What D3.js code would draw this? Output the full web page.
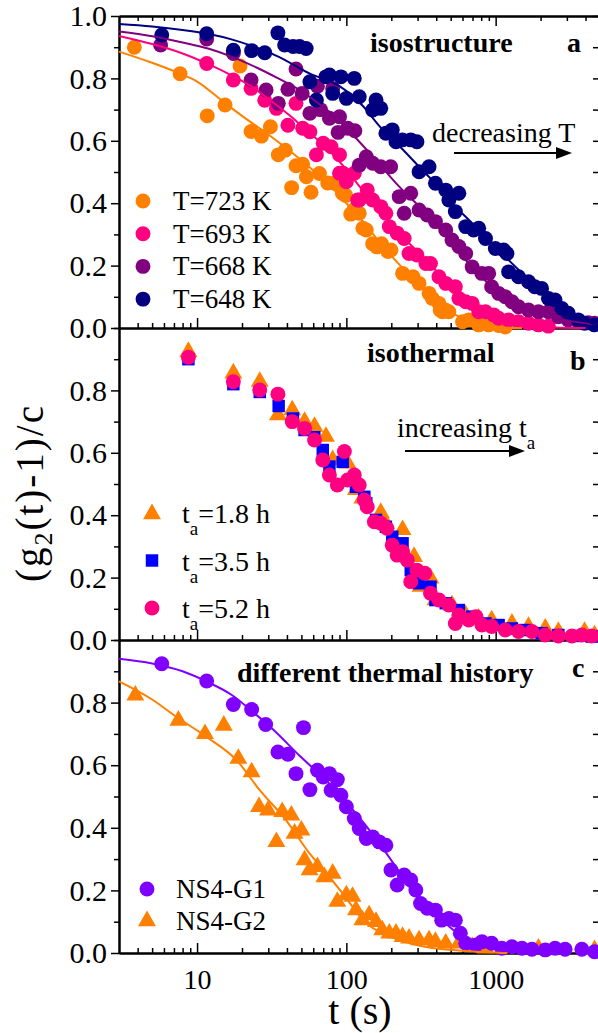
<!DOCTYPE html>
<html lang="en">
<head>
<meta charset="UTF-8">
<title>g2 decay</title>
<script src="https://cdn.jsdelivr.net/npm/d3@7"></script>
<style>
  body { margin: 0; background: #fff; }
  text { font-family: 'Liberation Serif', 'Times New Roman', serif; fill: #000; }
</style>
</head>
<body>
<script>
// ---- panel a : isostructure, [t (s), (g2-1)/c]
const iso723 = [[3.8,0.90],[7.7,0.815],[11.7,0.68],[15.4,0.715],[19.4,0.84],[23,0.63],[27,0.615],[31,0.645],[35,0.555],[39,0.57],[43,0.45],[46,0.52],[51,0.525],[54,0.485],[58,0.435],[66,0.495],[75,0.465],[83,0.464],[94,0.432],[99,0.425],[107,0.365],[112,0.378],[122,0.368],[129,0.32],[136,0.314],[150,0.27],[160,0.26],[172,0.27],[190,0.245],[199,0.25],[238,0.175],[280,0.164],[307,0.143],[358,0.111],[376,0.095],[417,0.079],[425,0.058],[440,0.052],[460,0.058],[486,0.052],[600,0.02],[661,0.026],[770,0.01],[898,0.01],[1047,0.008],[1160,0.003]];
const iso693 = [[11.6,0.848],[17.5,0.795],[23,0.768],[28.4,0.73],[34,0.704],[40.6,0.65],[46,0.72],[51,0.64],[57,0.629],[63,0.555],[70,0.592],[79,0.581],[90,0.555],[90,0.496],[95,0.496],[100,0.469],[113,0.496],[119,0.41],[122,0.41],[138,0.442],[150,0.41],[170,0.389],[184,0.368],[194,0.325],[219,0.304],[244,0.287],[263,0.239],[297,0.234],[341,0.207],[366,0.207],[417,0.164],[463,0.143],[537,0.132],[567,0.095],[630,0.084],[696,0.079],[770,0.052],[855,0.052],[970,0.042],[1047,0.031],[1221,0.026],[1423,0.02],[1660,0.015],[1935,0.01],[2255,0.006]];
const iso668 = [[5.7,0.907],[11.6,0.926],[17.5,0.88],[23,0.795],[29,0.763],[35,0.72],[40.6,0.765],[46,0.83],[50.6,0.752],[57,0.688],[64,0.775],[67,0.70],[77,0.672],[81,0.768],[90,0.677],[88,0.627],[102,0.64],[114,0.632],[122,0.522],[136,0.549],[150,0.528],[170,0.517],[198,0.517],[226,0.421],[244,0.368],[270,0.432],[307,0.378],[348,0.362],[395,0.341],[463,0.314],[510,0.282],[567,0.261],[630,0.239],[696,0.196],[808,0.175],[898,0.175],[940,0.132],[1047,0.111],[1160,0.1],[1286,0.084],[1423,0.068],[1660,0.058],[1935,0.052],[2255,0.052],[2630,0.036],[3066,0.026],[3575,0.02],[4169,0.017],[4600,0.015]];
const iso648 = [[5.8,0.939],[11.6,0.943],[17.5,0.89],[23.2,0.889],[28.4,0.882],[34.8,0.946],[38.6,0.907],[44,0.902],[48.6,0.902],[53.8,0.896],[57,0.789],[63,0.731],[73,0.805],[77,0.811],[81,0.752],[92,0.805],[100,0.736],[113,0.8],[122,0.741],[150,0.699],[158,0.731],[170,0.704],[184,0.624],[203,0.635],[215,0.597],[237,0.603],[270,0.603],[297,0.597],[307,0.501],[358,0.517],[395,0.464],[463,0.442],[486,0.41],[567,0.432],[537,0.373],[630,0.325],[713,0.314],[770,0.32],[855,0.287],[995,0.255],[1131,0.25],[1190,0.239],[1221,0.18],[1423,0.164],[1660,0.148],[1830,0.132],[2030,0.127],[2255,0.095],[2500,0.09],[2770,0.063],[3066,0.047],[3575,0.026],[3940,0.015],[4600,0.01]];
// fitted curves
const fit723 = [[3,0.886],[5,0.85],[7.7,0.815],[10,0.79],[15,0.725],[20,0.68],[30,0.62],[45,0.555],[60,0.505],[80,0.45],[100,0.40],[130,0.34],[170,0.27],[230,0.2],[300,0.145],[400,0.09],[550,0.04],[750,0.01],[1000,0.002],[1500,0]];
const fit693 = [[3,0.936],[5,0.91],[8,0.88],[12,0.845],[17,0.81],[23,0.775],[30,0.735],[42,0.68],[55,0.63],[73,0.58],[95,0.52],[122,0.455],[160,0.385],[226,0.303],[300,0.245],[376,0.197],[500,0.135],[630,0.09],[800,0.055],[1047,0.033],[1400,0.015],[1800,0.007],[2500,0.002],[4000,0]];
const fit668 = [[3,0.95],[5,0.935],[8,0.915],[12,0.895],[17,0.87],[25,0.835],[35,0.80],[46,0.77],[65,0.72],[85,0.675],[110,0.62],[150,0.55],[226,0.453],[300,0.395],[376,0.346],[500,0.275],[630,0.218],[800,0.165],[1047,0.111],[1400,0.075],[1750,0.055],[2300,0.037],[2920,0.026],[4000,0.015],[5000,0.01]];
const fit648 = [[3,0.974],[5,0.966],[8,0.955],[12,0.942],[17,0.925],[23,0.905],[35,0.87],[57,0.815],[90,0.775],[130,0.71],[166,0.648],[230,0.58],[307,0.517],[400,0.46],[510,0.40],[650,0.35],[855,0.293],[1100,0.24],[1350,0.197],[1700,0.152],[2140,0.111],[2600,0.08],[3066,0.052],[3600,0.033],[4600,0.012],[5000,0.008]];

// ---- panel b : isothermal
const ta18 = [[8.75,0.924],[17.5,0.855],[26.3,0.828],[34.8,0.721],[43.4,0.737],[52.5,0.70],[61.2,0.684],[73,0.652],[81,0.577],[102,0.566],[116,0.481],[128,0.454],[170,0.408],[184,0.374],[238,0.353],[284,0.267],[314,0.171],[366,0.198],[395,0.128],[510,0.112],[630,0.08],[770,0.069],[940,0.064],[1286,0.053],[1660,0.043],[2150,0.037],[2630,0.027],[3940,0.027],[4600,0.016]];
const ta35 = [[8.75,0.90],[17.5,0.82],[26.3,0.795],[35.2,0.75],[43.9,0.71],[52.5,0.673],[61,0.65],[69.5,0.609],[77,0.556],[94.5,0.571],[116,0.491],[132,0.459],[136,0.438],[158,0.385],[184,0.363],[203,0.331],[238,0.31],[270,0.224],[307,0.182],[366,0.171],[395,0.128],[463,0.118],[567,0.096],[696,0.075],[855,0.053],[1047,0.048],[1286,0.037],[1580,0.032],[2030,0.022],[2630,0.016],[3440,0.013],[4400,0.011]];
const ta52 = [[8.75,0.906],[17.5,0.828],[26.3,0.801],[34.8,0.788],[43.4,0.70],[52.5,0.678],[61.2,0.641],[69.5,0.577],[77,0.529],[87,0.497],[97,0.604],[102,0.513],[113,0.529],[122,0.497],[132,0.449],[138,0.427],[154,0.379],[170,0.374],[187,0.358],[203,0.304],[219,0.272],[238,0.283],[256,0.256],[270,0.187],[297,0.224],[335,0.214],[366,0.15],[417,0.128],[486,0.112],[537,0.053],[567,0.08],[661,0.064],[737,0.075],[810,0.048],[940,0.043],[1160,0.032],[1423,0.027],[1750,0.027],[2150,0.016],[2630,0.013],[3240,0.013],[3780,0.016],[4400,0.013]];

// ---- panel c : different thermal history
const g1 = [[5.8,0.924],[11.6,0.869],[17.5,0.794],[23.2,0.778],[28.8,0.73],[34.8,0.642],[40.6,0.635],[46,0.573],[51.6,0.72],[57,0.522],[64,0.584],[70,0.562],[77,0.573],[79,0.52],[87,0.554],[92,0.504],[100,0.467],[113,0.43],[122,0.398],[136,0.366],[150,0.371],[166,0.355],[184,0.344],[199,0.265],[219,0.217],[244,0.249],[270,0.233],[292,0.201],[314,0.158],[348,0.143],[395,0.137],[435,0.105],[486,0.11],[537,0.105],[580,0.063],[630,0.031],[737,0.026],[810,0.036],[940,0.031],[1100,0.015],[1286,0.02],[1500,0.015],[1750,0.012],[2150,0.01],[2500,0.015],[2920,0.012],[3780,0.012],[4600,0.004]];
const g2 = [[3.86,0.823],[7.5,0.743],[11.3,0.70],[15.1,0.727],[18.9,0.621],[23.2,0.578],[26,0.467],[29.9,0.456],[34,0.355],[37.2,0.451],[42.8,0.44],[45,0.382],[50,0.392],[52.5,0.297],[56.7,0.265],[64,0.275],[71.3,0.243],[81,0.254],[87,0.164],[100,0.185],[110,0.18],[116,0.137],[128,0.105],[142,0.121],[158,0.1],[174,0.073],[194,0.063],[215,0.063],[238,0.052],[263,0.047],[307,0.041],[358,0.041],[395,0.036],[463,0.031],[567,0.031],[696,0.02],[855,0.015],[1935,0.015],[4600,0.01]];
const fitG1 = [[3,0.94],[5,0.925],[8,0.90],[11.6,0.867],[17,0.825],[23,0.775],[33,0.71],[48.6,0.63],[65,0.575],[81,0.53],[105,0.47],[136,0.405],[166,0.35],[226,0.26],[307,0.17],[376,0.13],[460,0.095],[567,0.06],[700,0.035],[850,0.02],[1100,0.008],[1500,0.002],[2500,0]];
const fitG2 = [[3,0.868],[5,0.81],[7.3,0.754],[11.6,0.69],[18.4,0.616],[26.3,0.52],[39.5,0.424],[56.7,0.318],[75,0.25],[94.5,0.19],[136,0.095],[180,0.06],[226,0.041],[300,0.025],[376,0.016],[500,0.01],[630,0.006],[900,0.002],[1200,0]];

const xMajor = [10, 100, 1000];
const xMinor = [4,5,6,7,8,9,20,30,40,50,60,70,80,90,200,300,400,500,600,700,800,900,2000,3000,4000,5000];
const yAllTicks = d3.range(0, 1.001, 0.1);
const labelsA = [0, 0.2, 0.4, 0.6, 0.8, 1.0];
const labelsBC = [0, 0.2, 0.4, 0.6, 0.8];

const W = 598, H = 1033;
const svg = d3.select('body').append('svg').attr('width', W).attr('height', H);
const x = d3.scaleLog().domain([3, 5000]).range([119, 600]);

const yA = d3.scaleLinear().domain([0, 1]).range([328, 16]);
const yB = d3.scaleLinear().domain([0, 1]).range([640, 328]);
const yC = d3.scaleLinear().domain([0, 1]).range([953, 640]);

const FONT = "'Liberation Serif', 'Times New Roman', serif";

function styleAxis(g, size) {
  g.select('.domain').attr('stroke', '#000').attr('stroke-width', 2);
  g.selectAll('.tick line').attr('stroke', '#000').attr('stroke-width', 1.5);
  g.selectAll('text').attr('font-family', FONT).attr('font-size', size).attr('fill', '#000');
}

function frame(y, labels, xLabels, topTicks) {
  const bottom = y.range()[0], top = y.range()[1];
  // left axis, ticks outward
  const minors = yAllTicks.filter(v => !labels.some(l => Math.abs(l - v) < 1e-6));
  svg.append('g').attr('transform', 'translate(119,0)')
    .call(d3.axisLeft(y).tickValues(minors).tickSize(5).tickFormat('').tickSizeOuter(0))
    .call(g => styleAxis(g, 30));
  svg.append('g').attr('transform', 'translate(119,0)')
    .call(d3.axisLeft(y).tickValues(labels).tickSize(8).tickPadding(4).tickFormat(d3.format('.1f')).tickSizeOuter(0))
    .call(g => styleAxis(g, 30));
  // right axis, ticks inward
  svg.append('g').attr('transform', 'translate(600,0)')
    .call(d3.axisRight(y).tickValues(yAllTicks).tickSize(-7).tickFormat('').tickSizeOuter(0))
    .call(g => styleAxis(g, 28));
  // bottom axis, ticks inward
  svg.append('g').attr('transform', `translate(0,${bottom})`)
    .call(d3.axisBottom(x).tickValues(xMinor).tickSize(-5).tickFormat('').tickSizeOuter(0))
    .call(g => styleAxis(g, 28));
  svg.append('g').attr('transform', `translate(0,${bottom})`)
    .call(d3.axisBottom(x).tickValues(xMajor).tickSize(-10).tickPadding(16)
      .tickFormat(xLabels ? d3.format('d') : '').tickSizeOuter(0))
    .call(g => styleAxis(g, 28));
  if (topTicks) {
    svg.append('g').attr('transform', `translate(0,${top})`)
      .call(d3.axisTop(x).tickValues(xMinor).tickSize(-5).tickFormat('').tickSizeOuter(0))
      .call(g => styleAxis(g, 28));
    svg.append('g').attr('transform', `translate(0,${top})`)
      .call(d3.axisTop(x).tickValues(xMajor).tickSize(-10).tickFormat('').tickSizeOuter(0))
      .call(g => styleAxis(g, 28));
  }
}

frame(yA, labelsA, false, true);
frame(yB, labelsBC, false, false);
frame(yC, labelsBC, true, false);

const circle = d3.symbol().type(d3.symbolCircle).size(175)();
const tri = d3.symbol().type(d3.symbolTriangle).size(140)();
const sq = d3.symbol().type(d3.symbolSquare).size(155)();

function points(data, y, shape, color) {
  svg.append('g').selectAll('path').data(data).join('path')
    .attr('d', shape)
    .attr('transform', d => `translate(${x(d[0])},${y(d[1])})`)
    .attr('fill', color);
}
function fit(data, y, color) {
  svg.append('path').datum(data)
    .attr('fill', 'none').attr('stroke', color).attr('stroke-width', 2)
    .attr('d', d3.line().x(d => x(d[0])).y(d => y(d[1])).curve(d3.curveMonotoneX));
}

// panel a
const colA = ['#FF8000', '#FF0080', '#800080', '#000080'];
points(iso723, yA, circle, colA[0]);
points(iso693, yA, circle, colA[1]);
points(iso668, yA, circle, colA[2]);
points(iso648, yA, circle, colA[3]);
fit(fit723, yA, colA[0]);
fit(fit693, yA, colA[1]);
fit(fit668, yA, colA[2]);
fit(fit648, yA, colA[3]);

// panel b
points(ta18, yB, tri, '#FF8000');
points(ta35, yB, sq, '#0000FF');
points(ta52, yB, circle, '#FF0080');

// panel c
points(g2, yC, tri, '#FF8000');
points(g1, yC, circle, '#8000FF');
fit(fitG1, yC, '#8000FF');
fit(fitG2, yC, '#FF8000');

// legends
const legA = ['T=723 K', 'T=693 K', 'T=668 K', 'T=648 K'];
legA.forEach((t, i) => {
  const cy = 201 + i * 32.7;
  svg.append('path').attr('d', circle).attr('transform', `translate(143,${cy})`).attr('fill', colA[i]);
  svg.append('text').attr('x', 173).attr('y', cy + 9).attr('font-size', 27).text(t);
});

const legB = [['1.8', tri, '#FF8000'], ['3.5', sq, '#0000FF'], ['5.2', circle, '#FF0080']];
legB.forEach((d, i) => {
  const cy = 513 + i * 47.5;
  svg.append('path').attr('d', d[1]).attr('transform', `translate(152,${cy + (i === 0 ? 1 : 0)})`).attr('fill', d[2]);
  const t = svg.append('text').attr('x', 182).attr('y', cy + 10).attr('font-size', 28);
  t.append('tspan').text('t');
  t.append('tspan').attr('dy', 12).attr('font-size', 19).text('a');
  t.append('tspan').attr('dy', -12).text('=' + d[0] + ' h');
});

const legC = [['NS4-G1', circle, '#8000FF'], ['NS4-G2', tri, '#FF8000']];
legC.forEach((d, i) => {
  const cy = 889 + i * 32;
  svg.append('path').attr('d', d[1]).attr('transform', `translate(147,${cy})`).attr('fill', d[2]);
  svg.append('text').attr('x', 176).attr('y', cy + 9).attr('font-size', 27).text(d[0]);
});

// panel titles and letters
function bold(tx, xx, yy) {
  svg.append('text').attr('x', xx).attr('y', yy).attr('font-size', 28).attr('font-weight', 'bold').text(tx);
}
bold('isostructure', 370, 52);
bold('a', 567, 52);
bold('isothermal', 367, 362);
bold('b', 570, 370);
bold('different thermal history', 237, 682);
bold('c', 572, 677);

// annotations with arrows
function arrow(x1, x2, yy) {
  svg.append('line').attr('x1', x1).attr('x2', x2 - 10).attr('y1', yy).attr('y2', yy)
    .attr('stroke', '#000').attr('stroke-width', 2);
  svg.append('path').attr('d', `M${x2},${yy} L${x2 - 16},${yy - 6} L${x2 - 16},${yy + 6} Z`).attr('fill', '#000');
}
svg.append('text').attr('x', 432).attr('y', 142).attr('font-size', 28).text('decreasing T');
arrow(454, 572, 153);
const inc = svg.append('text').attr('x', 397).attr('y', 437).attr('font-size', 28);
inc.append('tspan').text('increasing t');
inc.append('tspan').attr('dy', 12).attr('font-size', 19).text('a');
arrow(405, 525, 451);

// axis titles
svg.append('text').attr('x', 360).attr('y', 1024).attr('text-anchor', 'middle')
  .attr('font-size', 40).text('t (s)');
const yt = svg.append('text').attr('transform', 'translate(43,493) rotate(-90)')
  .attr('text-anchor', 'middle').attr('font-size', 39).attr('letter-spacing', 2);
yt.append('tspan').text('(g');
yt.append('tspan').attr('dy', 9).attr('font-size', 26).text('2');
yt.append('tspan').attr('dy', -9).text('(t)-1)/c');
</script>
</body>
</html>
